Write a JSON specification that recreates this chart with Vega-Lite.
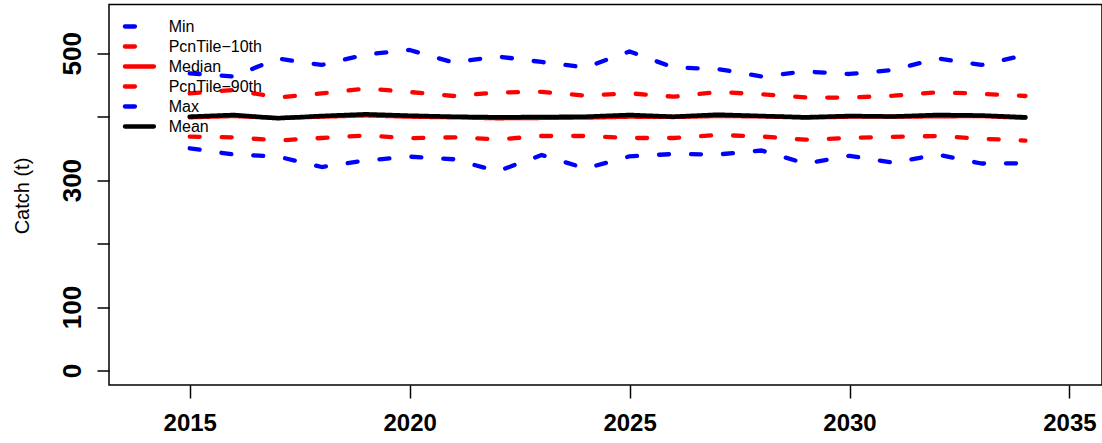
{
  "$schema": "https://vega.github.io/schema/vega-lite/v6.json",
  "width": 993,
  "height": 380.5,
  "autosize": {"type": "none"},
  "padding": {"left": 109, "top": 4.5, "right": 0, "bottom": 58},
  "background": "white",
  "config": {"view": {"stroke": "black", "strokeWidth": 1.5}, "font": "Liberation Sans"},
  "datasets": {
    "catch": [
      {"year": 2015, "series": "Min", "value": 350.2}, {"year": 2016, "series": "Min", "value": 340.4}, {"year": 2017, "series": "Min", "value": 337.3}, {"year": 2018, "series": "Min", "value": 320.7}, {"year": 2019, "series": "Min", "value": 331.0}, {"year": 2020, "series": "Min", "value": 337.0}, {"year": 2021, "series": "Min", "value": 332.9}, {"year": 2022, "series": "Min", "value": 313.9}, {"year": 2023, "series": "Min", "value": 339.6}, {"year": 2024, "series": "Min", "value": 318.4}, {"year": 2025, "series": "Min", "value": 337.6}, {"year": 2026, "series": "Min", "value": 341.2}, {"year": 2027, "series": "Min", "value": 340.4}, {"year": 2028, "series": "Min", "value": 346.7}, {"year": 2029, "series": "Min", "value": 326.2}, {"year": 2030, "series": "Min", "value": 338.4}, {"year": 2031, "series": "Min", "value": 327.5}, {"year": 2032, "series": "Min", "value": 340.4}, {"year": 2033, "series": "Min", "value": 326.2}, {"year": 2034, "series": "Min", "value": 326.6},
      {"year": 2015, "series": "PcnTile−10th", "value": 368.5}, {"year": 2016, "series": "PcnTile−10th", "value": 367.5}, {"year": 2017, "series": "PcnTile−10th", "value": 362.5}, {"year": 2018, "series": "PcnTile−10th", "value": 366.4}, {"year": 2019, "series": "PcnTile−10th", "value": 370.4}, {"year": 2020, "series": "PcnTile−10th", "value": 366.0}, {"year": 2021, "series": "PcnTile−10th", "value": 367.5}, {"year": 2022, "series": "PcnTile−10th", "value": 364.1}, {"year": 2023, "series": "PcnTile−10th", "value": 369.6}, {"year": 2024, "series": "PcnTile−10th", "value": 369.6}, {"year": 2025, "series": "PcnTile−10th", "value": 366.4}, {"year": 2026, "series": "PcnTile−10th", "value": 366.4}, {"year": 2027, "series": "PcnTile−10th", "value": 371.2}, {"year": 2028, "series": "PcnTile−10th", "value": 368.8}, {"year": 2029, "series": "PcnTile−10th", "value": 363.7}, {"year": 2030, "series": "PcnTile−10th", "value": 366.4}, {"year": 2031, "series": "PcnTile−10th", "value": 368.2}, {"year": 2032, "series": "PcnTile−10th", "value": 369.6}, {"year": 2033, "series": "PcnTile−10th", "value": 365.3}, {"year": 2034, "series": "PcnTile−10th", "value": 362.2},
      {"year": 2015, "series": "Median", "value": 399.0}, {"year": 2016, "series": "Median", "value": 401.0}, {"year": 2017, "series": "Median", "value": 398.0}, {"year": 2018, "series": "Median", "value": 400.0}, {"year": 2019, "series": "Median", "value": 402.0}, {"year": 2020, "series": "Median", "value": 400.0}, {"year": 2021, "series": "Median", "value": 399.0}, {"year": 2022, "series": "Median", "value": 397.5}, {"year": 2023, "series": "Median", "value": 398.0}, {"year": 2024, "series": "Median", "value": 398.5}, {"year": 2025, "series": "Median", "value": 400.0}, {"year": 2026, "series": "Median", "value": 399.5}, {"year": 2027, "series": "Median", "value": 401.0}, {"year": 2028, "series": "Median", "value": 400.5}, {"year": 2029, "series": "Median", "value": 398.5}, {"year": 2030, "series": "Median", "value": 400.0}, {"year": 2031, "series": "Median", "value": 400.0}, {"year": 2032, "series": "Median", "value": 400.5}, {"year": 2033, "series": "Median", "value": 401.0}, {"year": 2034, "series": "Median", "value": 398.0},
      {"year": 2015, "series": "PcnTile−90th", "value": 436.6}, {"year": 2016, "series": "PcnTile−90th", "value": 442.1}, {"year": 2017, "series": "PcnTile−90th", "value": 430.3}, {"year": 2018, "series": "PcnTile−90th", "value": 436.6}, {"year": 2019, "series": "PcnTile−90th", "value": 444.4}, {"year": 2020, "series": "PcnTile−90th", "value": 438.9}, {"year": 2021, "series": "PcnTile−90th", "value": 432.6}, {"year": 2022, "series": "PcnTile−90th", "value": 438.1}, {"year": 2023, "series": "PcnTile−90th", "value": 439.2}, {"year": 2024, "series": "PcnTile−90th", "value": 433.1}, {"year": 2025, "series": "PcnTile−90th", "value": 436.9}, {"year": 2026, "series": "PcnTile−90th", "value": 431.5}, {"year": 2027, "series": "PcnTile−90th", "value": 438.9}, {"year": 2028, "series": "PcnTile−90th", "value": 435.3}, {"year": 2029, "series": "PcnTile−90th", "value": 430.3}, {"year": 2030, "series": "PcnTile−90th", "value": 430.0}, {"year": 2031, "series": "PcnTile−90th", "value": 433.1}, {"year": 2032, "series": "PcnTile−90th", "value": 438.5}, {"year": 2033, "series": "PcnTile−90th", "value": 436.1}, {"year": 2034, "series": "PcnTile−90th", "value": 432.6},
      {"year": 2015, "series": "Max", "value": 468.4}, {"year": 2016, "series": "Max", "value": 463.4}, {"year": 2017, "series": "Max", "value": 491.7}, {"year": 2018, "series": "Max", "value": 481.5}, {"year": 2019, "series": "Max", "value": 498.0}, {"year": 2020, "series": "Max", "value": 505.1}, {"year": 2021, "series": "Max", "value": 485.4}, {"year": 2022, "series": "Max", "value": 494.9}, {"year": 2023, "series": "Max", "value": 486.2}, {"year": 2024, "series": "Max", "value": 477.5}, {"year": 2025, "series": "Max", "value": 502.8}, {"year": 2026, "series": "Max", "value": 477.5}, {"year": 2027, "series": "Max", "value": 475.2}, {"year": 2028, "series": "Max", "value": 463.4}, {"year": 2029, "series": "Max", "value": 471.2}, {"year": 2030, "series": "Max", "value": 467.3}, {"year": 2031, "series": "Max", "value": 473.6}, {"year": 2032, "series": "Max", "value": 492.0}, {"year": 2033, "series": "Max", "value": 481.5}, {"year": 2034, "series": "Max", "value": 497.2},
      {"year": 2015, "series": "Mean", "value": 400.0}, {"year": 2016, "series": "Mean", "value": 402.7}, {"year": 2017, "series": "Mean", "value": 397.5}, {"year": 2018, "series": "Mean", "value": 401.1}, {"year": 2019, "series": "Mean", "value": 403.8}, {"year": 2020, "series": "Mean", "value": 401.6}, {"year": 2021, "series": "Mean", "value": 400.0}, {"year": 2022, "series": "Mean", "value": 399.1}, {"year": 2023, "series": "Mean", "value": 399.5}, {"year": 2024, "series": "Mean", "value": 400.0}, {"year": 2025, "series": "Mean", "value": 402.7}, {"year": 2026, "series": "Mean", "value": 400.0}, {"year": 2027, "series": "Mean", "value": 403.2}, {"year": 2028, "series": "Mean", "value": 401.1}, {"year": 2029, "series": "Mean", "value": 399.1}, {"year": 2030, "series": "Mean", "value": 401.1}, {"year": 2031, "series": "Mean", "value": 400.3}, {"year": 2032, "series": "Mean", "value": 402.7}, {"year": 2033, "series": "Mean", "value": 401.9}, {"year": 2034, "series": "Mean", "value": 399.1}
    ]
  },
  "data": {"name": "catch"},
  "encoding": {
    "x": {
      "field": "year", "type": "quantitative",
      "scale": {"domain": [2013.165, 2035.74], "nice": false, "zero": false},
      "axis": {"values": [2015, 2020, 2025, 2030, 2035], "format": "d", "title": null, "domain": false, "grid": false, "tickSize": 13, "tickWidth": 1.5, "tickColor": "black", "labelFontSize": 24, "labelFontWeight": "bold", "labelColor": "black", "labelPadding": 13, "labelBaseline": "top", "labelFont": "Liberation Sans", "labelFlush": false, "labelOverlap": false}
    },
    "y": {
      "field": "value", "type": "quantitative",
      "scale": {"domain": [-22.85, 576.8], "nice": false, "zero": false},
      "axis": {"values": [0, 100, 200, 300, 400, 500], "title": "Catch (t)", "domain": false, "grid": false, "tickSize": 12, "tickWidth": 1.5, "tickColor": "black", "labelAngle": 270, "labelAlign": "center", "labelBaseline": "alphabetic", "labelPadding": 17, "labelFontSize": 26, "labelFontWeight": "bold", "labelColor": "black", "labelFont": "Liberation Sans", "labelExpr": "datum.value == 200 || datum.value == 400 ? '' : datum.label", "labelOverlap": false, "labelFlush": false, "titleFontSize": 20, "titleFontWeight": "normal", "titleColor": "black", "titleFont": "Liberation Sans", "titleAngle": 270, "titleX": -81, "titleY": 191, "titleAlign": "center", "titleBaseline": "alphabetic"}
    },
    "color": {
      "field": "series", "type": "nominal",
      "scale": {"domain": ["Min", "PcnTile−10th", "Median", "PcnTile−90th", "Max", "Mean"], "range": ["#0000FF", "#FF0000", "#FF0000", "#FF0000", "#0000FF", "#000000"]},
      "legend": {"title": null, "orient": "none", "legendX": 19.95, "legendY": 11.5, "symbolType": "M-1.76,0H1.76", "symbolSize": 272, "symbolStrokeWidth": 4.3, "labelFontSize": 16, "labelFont": "Liberation Sans", "labelColor": "black", "labelOffset": 18.75, "padding": 0, "rowPadding": 0, "symbolOpacity": 1, "symbolFillColor": "transparent", "encode": {"symbols": {"update": {"strokeCap": {"value": "round"}, "fill": {"value": "transparent"}}}}}
    },
    "strokeDash": {
      "field": "series", "type": "nominal",
      "scale": {"domain": ["Min", "PcnTile−10th", "Median", "PcnTile−90th", "Max", "Mean"], "range": [[10, 22], [10, 22], [1, 0], [10, 22], [10, 22], [1, 0]]},
      "legend": {"title": null, "orient": "none", "legendX": 19.95, "legendY": 11.5, "symbolType": "M-1.76,0H1.76", "symbolSize": 272, "symbolStrokeWidth": 4.3, "labelFontSize": 16, "labelFont": "Liberation Sans", "labelColor": "black", "labelOffset": 18.75, "padding": 0, "rowPadding": 0, "symbolOpacity": 1, "symbolFillColor": "transparent", "encode": {"symbols": {"update": {"strokeCap": {"value": "round"}, "fill": {"value": "transparent"}}}}}
    }
  },
  "layer": [
    {
      "transform": [{"filter": "datum.series != 'Mean'"}],
      "mark": {"type": "line", "strokeWidth": 4.3, "strokeCap": "round", "strokeJoin": "round"}
    },
    {
      "transform": [{"filter": "datum.series == 'Mean'"}],
      "mark": {"type": "line", "strokeWidth": 4.5, "strokeCap": "round", "strokeJoin": "round"}
    }
  ]
}
